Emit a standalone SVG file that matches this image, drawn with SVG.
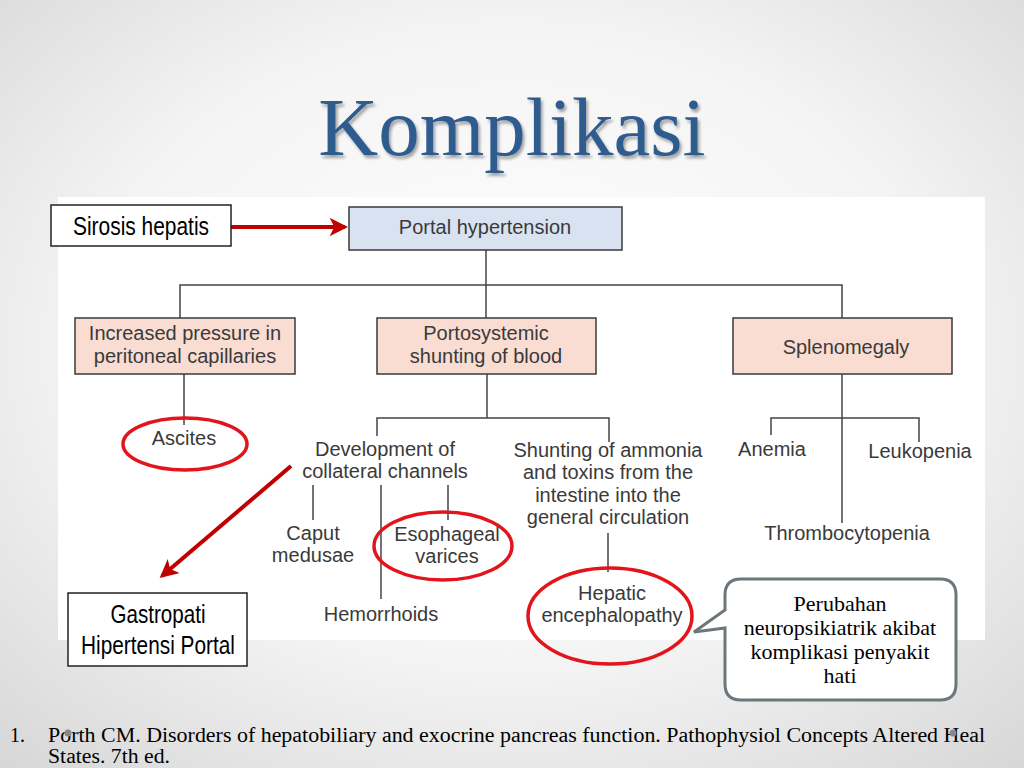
<svg xmlns="http://www.w3.org/2000/svg" width="1024" height="768" viewBox="0 0 1024 768">
<defs>
<radialGradient id="bg" cx="50%" cy="45%" r="75%">
<stop offset="0" stop-color="#ffffff"/>
<stop offset="0.55" stop-color="#f4f4f4"/>
<stop offset="1" stop-color="#d6d6d6"/>
</radialGradient>
<filter id="sh" x="-10%" y="-10%" width="130%" height="130%">
<feGaussianBlur in="SourceAlpha" stdDeviation="1.5"/>
<feOffset dx="2" dy="3" result="b"/>
<feComponentTransfer><feFuncA type="linear" slope="0.35"/></feComponentTransfer>
<feMerge><feMergeNode/><feMergeNode in="SourceGraphic"/></feMerge>
</filter>
<marker id="ah" viewBox="0 0 12 12" refX="10" refY="6" markerWidth="4.6" markerHeight="4.6" orient="auto" markerUnits="strokeWidth">
<path d="M0,0 L12,6 L0,12 L3,6 Z" fill="#C00000"/>
</marker>
<style>
.box{stroke:#3a3a3a;stroke-width:1.5}
.pink{fill:#F9DCD2}
.blue{fill:#D9E2F1}
.t{font-family:"Liberation Sans",Arial,sans-serif;font-size:20px;fill:#3a3a3a;text-anchor:middle}
.n{font-family:"Liberation Sans Narrow","Liberation Sans",Arial,sans-serif;font-size:26px;fill:#000;text-anchor:middle}
.c{stroke:#444;stroke-width:1.5;fill:none}
.red{stroke:#E3141B;stroke-width:3.5;fill:none}
.arr{stroke:#C00000;stroke-width:4;fill:none}
.s{font-family:"Liberation Serif","Times New Roman",serif;fill:#000}
</style>
</defs>
<rect width="1024" height="768" fill="url(#bg)"/>
<text x="512" y="155" text-anchor="middle" font-family="Liberation Serif,'Times New Roman',serif" font-size="83" fill="#2F5B8F" filter="url(#sh)">Komplikasi</text>
<rect x="58" y="197" width="927" height="443" fill="#ffffff"/>

<g id="connectors">
<line class="c" x1="486" y1="250" x2="486" y2="318"/>
<polyline class="c" points="180,318 180,285 842,285 842,318"/>
<line class="c" x1="184" y1="374" x2="184" y2="425"/>
<line class="c" x1="487" y1="374" x2="487" y2="418"/>
<polyline class="c" points="377,436 377,418 609,418 609,442"/>
<line class="c" x1="313" y1="485" x2="313" y2="520"/>
<line class="c" x1="381" y1="485" x2="381" y2="599"/>
<line class="c" x1="448" y1="485" x2="448" y2="520"/>
<line class="c" x1="608" y1="533" x2="608" y2="572"/>
<line class="c" x1="842" y1="374" x2="842" y2="523"/>
<polyline class="c" points="771,435 771,418 919,418 919,442"/>
<line class="arr" x1="231" y1="227" x2="345" y2="227" marker-end="url(#ah)"/>
<line class="arr" x1="291" y1="466" x2="162" y2="576" marker-end="url(#ah)"/>
</g>

<g id="sirosis">
<rect x="51" y="205" width="180" height="41" fill="#fff" stroke="#222" stroke-width="1.5"/>
<text class="n" x="141" y="235" textLength="136" lengthAdjust="spacingAndGlyphs">Sirosis hepatis</text>
</g>
<g id="portal">
<rect class="box blue" x="349" y="207" width="273" height="43"/>
<text class="t" x="485" y="234">Portal hypertension</text>
</g>
<g id="increased">
<rect class="box pink" x="75" y="318" width="220" height="56"/>
<text class="t" x="185" y="340">Increased pressure in</text>
<text class="t" x="185" y="363">peritoneal capillaries</text>
</g>
<g id="portosystemic">
<rect class="box pink" x="377" y="318" width="219" height="56"/>
<text class="t" x="486" y="340">Portosystemic</text>
<text class="t" x="486" y="363">shunting of blood</text>
</g>
<g id="splenomegaly">
<rect class="box pink" x="733" y="318" width="219" height="56"/>
<text class="t" x="846" y="354">Splenomegaly</text>
</g>
<g id="ascites">
<text class="t" x="184" y="445">Ascites</text>
<ellipse class="red" cx="185" cy="444" rx="62" ry="26"/>
</g>
<g id="development">
<text class="t" x="385" y="456">Development of</text>
<text class="t" x="385" y="478">collateral channels</text>
</g>
<g id="shunting">
<text class="t" x="608" y="457">Shunting of ammonia</text>
<text class="t" x="608" y="479">and toxins from the</text>
<text class="t" x="608" y="502">intestine into the</text>
<text class="t" x="608" y="524">general circulation</text>
</g>
<g id="caput">
<text class="t" x="313" y="540">Caput</text>
<text class="t" x="313" y="562">medusae</text>
</g>
<g id="esophageal">
<text class="t" x="447" y="541">Esophageal</text>
<text class="t" x="447" y="563">varices</text>
<ellipse class="red" cx="443" cy="546" rx="69" ry="34"/>
</g>
<g id="hemorrhoids">
<text class="t" x="381" y="621">Hemorrhoids</text>
</g>
<g id="hepatic">
<text class="t" x="612" y="600">Hepatic</text>
<text class="t" x="612" y="622">encephalopathy</text>
<ellipse class="red" cx="610" cy="616" rx="82" ry="48"/>
</g>
<g id="anemia"><text class="t" x="772" y="456">Anemia</text></g>
<g id="leukopenia"><text class="t" x="920" y="458">Leukopenia</text></g>
<g id="thrombocytopenia"><text class="t" x="847" y="540">Thrombocytopenia</text></g>
<g id="gastropati">
<rect x="68" y="593" width="179" height="73" fill="#fff" stroke="#222" stroke-width="1.5"/>
<text class="n" x="158" y="623" textLength="95" lengthAdjust="spacingAndGlyphs">Gastropati</text>
<text class="n" x="158" y="654" textLength="154" lengthAdjust="spacingAndGlyphs">Hipertensi Portal</text>
</g>
<g id="callout">
<path d="M741,579 H940 Q956,579 956,595 V684 Q956,700 940,700 H741 Q725,700 725,684 V628 L694,632 L725,610 V595 Q725,579 741,579 Z" fill="#fff" stroke="#6D767B" stroke-width="3"/>
<text class="s" x="840" y="611" font-size="22" text-anchor="middle">Perubahan</text>
<text class="s" x="840" y="635" font-size="22" text-anchor="middle">neuropsikiatrik akibat</text>
<text class="s" x="840" y="659" font-size="22" text-anchor="middle">komplikasi penyakit</text>
<text class="s" x="840" y="683" font-size="22" text-anchor="middle">hati</text>
</g>
<g id="footer">
<text class="s" x="10" y="742" font-size="20">1.</text>
<text class="s" x="48" y="742" font-size="20" textLength="937" lengthAdjust="spacingAndGlyphs">Porth CM. Disorders of hepatobiliary and exocrine pancreas function. Pathophysiol Concepts Altered Heal</text>
<text class="s" x="48" y="763" font-size="20" textLength="122" lengthAdjust="spacingAndGlyphs">States. 7th ed.</text>
<circle cx="68" cy="733" r="3.5" fill="#888"/>
<circle cx="953" cy="733" r="3.5" fill="#888"/>
</g>
</svg>
